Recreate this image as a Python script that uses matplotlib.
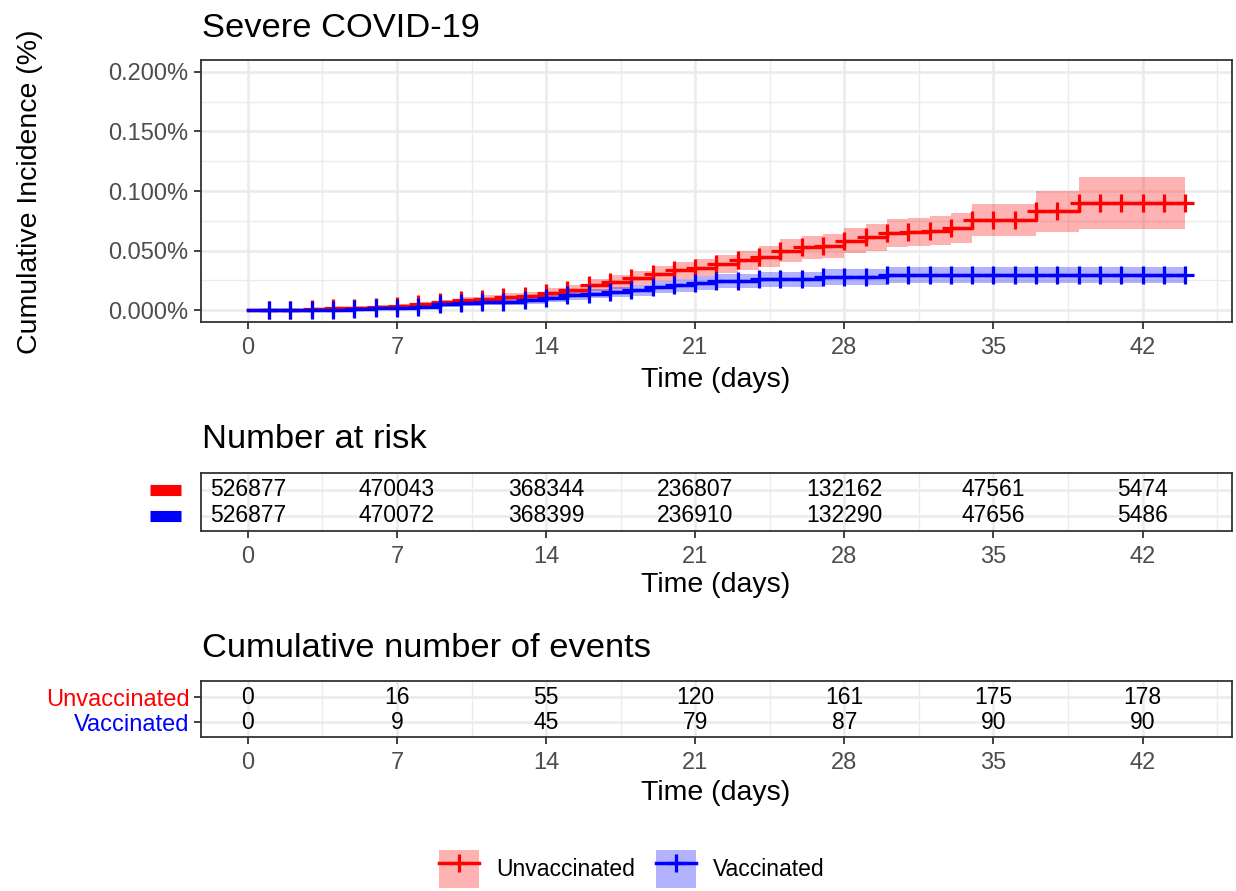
import numpy as np
import matplotlib
matplotlib.use('Agg')
import matplotlib.pyplot as plt
from matplotlib.patches import Patch
from matplotlib.lines import Line2D
from matplotlib.ticker import MultipleLocator
import matplotlib.transforms as mtransforms

plt.rcParams['font.family'] = ['Liberation Sans', 'DejaVu Sans']

# cumulative incidence (%) per day, step value from day d to d+1
days = np.arange(0, 45)
unvacc = [0, 0, 0.0003, 0.0008, 0.0014, 0.0019, 0.0028, 0.0036, 0.0047, 0.0064,
          0.0083, 0.0097, 0.0108, 0.0120, 0.0147, 0.0167, 0.0208, 0.0236, 0.0270, 0.0306,
          0.0333, 0.0355, 0.0389, 0.0417, 0.0450, 0.0500, 0.0528, 0.0542, 0.0583, 0.0611,
          0.0647, 0.0653, 0.0667, 0.0686, 0.0756, 0.0756, 0.0756, 0.0833, 0.0833, 0.0903,
          0.0903, 0.0903, 0.0903, 0.0903, 0.0903]
unvacc_lo = [0, 0, 0.0000, 0.0001, 0.0004, 0.0007, 0.0013, 0.0019, 0.0027, 0.0040,
             0.0055, 0.0066, 0.0075, 0.0085, 0.0107, 0.0123, 0.0158, 0.0181, 0.0210, 0.0241,
             0.0264, 0.0283, 0.0312, 0.0336, 0.0364, 0.0407, 0.0430, 0.0441, 0.0476, 0.0500,
             0.0530, 0.0535, 0.0545, 0.0560, 0.0620, 0.0620, 0.0620, 0.0653, 0.0653, 0.0680,
             0.0680, 0.0680, 0.0680, 0.0680, 0.0680]
unvacc_hi = [0, 0, 0.0008, 0.0016, 0.0024, 0.0031, 0.0043, 0.0053, 0.0067, 0.0088,
             0.0111, 0.0128, 0.0141, 0.0155, 0.0187, 0.0211, 0.0258, 0.0291, 0.0330, 0.0371,
             0.0402, 0.0427, 0.0466, 0.0498, 0.0536, 0.0593, 0.0626, 0.0643, 0.0690, 0.0722,
             0.0764, 0.0771, 0.0789, 0.0812, 0.0892, 0.0892, 0.0892, 0.1003, 0.1003, 0.1120,
             0.1120, 0.1120, 0.1120, 0.1120, 0.1120]
vacc = [0, 0, 0, 0, 0, 0.0006, 0.0014, 0.0019, 0.0028, 0.0047,
        0.0056, 0.0064, 0.0069, 0.0083, 0.0103, 0.0125, 0.0139, 0.0153, 0.0167, 0.0194,
        0.0208, 0.0228, 0.0242, 0.0242, 0.0258, 0.0258, 0.0258, 0.0278, 0.0278, 0.0278,
        0.0297, 0.0297, 0.0297, 0.0297, 0.0297, 0.0297, 0.0297, 0.0297, 0.0297, 0.0297,
        0.0297, 0.0297, 0.0297, 0.0297, 0.0297]
vacc_lo = [0, 0, 0, 0, 0, 0.0000, 0.0004, 0.0007, 0.0013, 0.0026,
           0.0033, 0.0039, 0.0043, 0.0054, 0.0070, 0.0088, 0.0099, 0.0110, 0.0122, 0.0144,
           0.0155, 0.0172, 0.0183, 0.0183, 0.0196, 0.0196, 0.0196, 0.0213, 0.0213, 0.0213,
           0.0231, 0.0231, 0.0231, 0.0231, 0.0231, 0.0231, 0.0231, 0.0231, 0.0231, 0.0231,
           0.0231, 0.0231, 0.0231, 0.0231, 0.0231]
vacc_hi = [0, 0, 0, 0, 0, 0.0013, 0.0024, 0.0031, 0.0043, 0.0068,
           0.0079, 0.0089, 0.0095, 0.0112, 0.0136, 0.0162, 0.0179, 0.0196, 0.0212, 0.0244,
           0.0261, 0.0284, 0.0301, 0.0301, 0.0320, 0.0320, 0.0320, 0.0343, 0.0343, 0.0343,
           0.0362, 0.0362, 0.0362, 0.0362, 0.0362, 0.0362, 0.0362, 0.0362, 0.0362, 0.0362,
           0.0362, 0.0362, 0.0362, 0.0362, 0.0362]

table_days = [0, 7, 14, 21, 28, 35, 42]
risk_unvacc = [526877, 470043, 368344, 236807, 132162, 47561, 5474]
risk_vacc = [526877, 470072, 368399, 236910, 132290, 47656, 5486]
events_unvacc = [0, 16, 55, 120, 161, 175, 178]
events_vacc = [0, 9, 45, 79, 87, 90, 90]

RED = '#FF0000'
BLUE = '#0000FF'
W, H = 1236, 891


def frac_box(x0, y0, x1, y1):
    return [x0 / W, 1 - y1 / H, (x1 - x0) / W, (y1 - y0) / H]


def style(a):
    a.set_facecolor('white')
    for s in a.spines.values():
        s.set_color('#333333')
        s.set_linewidth(1.3)
    a.tick_params(which='major', colors='#333333', labelcolor='#4D4D4D',
                  labelsize=17, length=5, width=1.3)
    a.tick_params(which='minor', length=0)
    a.grid(which='major', color='#EBEBEB', lw=1.8)
    a.grid(which='minor', color='#EBEBEB', lw=1.0)
    a.set_axisbelow(True)
    a.set_xlim(-2.2, 46.2)
    a.xaxis.set_major_locator(MultipleLocator(7))
    a.xaxis.set_minor_locator(MultipleLocator(3.5))
    a.tick_params(axis='x', pad=6)


fig = plt.figure(figsize=(W / 100, H / 100), dpi=100)

# main curve panel
ax = fig.add_axes(frac_box(201, 60, 1232, 322))
style(ax)
ax.set_ylim(-0.01, 0.21)
ax.yaxis.set_minor_locator(MultipleLocator(0.025))
ax.set_yticks([0, 0.05, 0.1, 0.15, 0.2])
ax.set_yticklabels(['%.3f%%' % v for v in [0, 0.05, 0.1, 0.15, 0.2]])
ax.tick_params(axis='y', pad=4)

for lo, hi, col in [(unvacc_lo, unvacc_hi, RED), (vacc_lo, vacc_hi, BLUE)]:
    ax.fill_between(days, lo, hi, step='post', color=col, alpha=0.3, lw=0)
for ci, col in [(unvacc, RED), (vacc, BLUE)]:
    ax.step(days, ci, where='post', color=col, lw=2.5)
    ax.plot(days[1:], ci[1:], '+', color=col, ms=13, mew=2.3, ls='none')

fig.text(202 / W, 1 - 37 / H, 'Severe COVID-19', fontsize=24.8, va='baseline', ha='left')
fig.text(30 / W, 1 - 192 / H, 'Cumulative Incidence (%)', fontsize=20.5,
         rotation=90, va='center', ha='center')
fig.text(716 / W, 1 - 380 / H, 'Time (days)', fontsize=20.5, va='center', ha='center')

# risk table
axr = fig.add_axes(frac_box(201, 473, 1232, 531))
style(axr)
axr.set_ylim(0.42, 2.65)
axr.set_yticks([1, 2])
axr.set_yticklabels(['', ''])
axr.tick_params(axis='y', length=0)
for d, a, b in zip(table_days, risk_unvacc, risk_vacc):
    axr.text(d, 2, str(a), ha='center', va='center', fontsize=16.5, color='black')
    axr.text(d, 1, str(b), ha='center', va='center', fontsize=16.5, color='black')
trans = mtransforms.blended_transform_factory(axr.transAxes, axr.transData)
for yv, col in [(2, RED), (1, BLUE)]:
    axr.plot([-0.0495, -0.0194], [yv, yv], color=col, lw=8, solid_capstyle='butt',
             transform=trans, clip_on=False)
fig.text(202 / W, 1 - 448 / H, 'Number at risk', fontsize=24.8, va='baseline', ha='left')
fig.text(716 / W, 1 - 585 / H, 'Time (days)', fontsize=20.5, va='center', ha='center')

# cumulative events table
axe = fig.add_axes(frac_box(201, 681, 1232, 737))
style(axe)
axe.set_ylim(0.42, 2.65)
axe.set_yticks([1, 2])
axe.set_yticklabels(['Vaccinated', 'Unvaccinated'])
axe.tick_params(axis='y', pad=3)
axe.get_yticklabels()[0].set_color(BLUE)
axe.get_yticklabels()[1].set_color(RED)
for d, a, b in zip(table_days, events_unvacc, events_vacc):
    axe.text(d, 2, str(a), ha='center', va='center', fontsize=16.5, color='black')
    axe.text(d, 1, str(b), ha='center', va='center', fontsize=16.5, color='black')
fig.text(202 / W, 1 - 657 / H, 'Cumulative number of events', fontsize=24.8,
         va='baseline', ha='left')
fig.text(716 / W, 1 - 793 / H, 'Time (days)', fontsize=20.5, va='center', ha='center')

# legend
handles = []
for col in [RED, BLUE]:
    handles.append((Patch(facecolor=col, alpha=0.3, lw=0),
                    Line2D([], [], color=col, lw=2.5, marker='+', ms=13, mew=2.3)))
fig.legend(handles, ['Unvaccinated', 'Vaccinated'], loc='center',
           bbox_to_anchor=(632 / W, 1 - 869 / H), ncol=2, frameon=False,
           fontsize=16.5, handlelength=1.75, handleheight=2.2,
           handletextpad=0.75, columnspacing=0.9, numpoints=1)

fig.savefig('out.png', dpi=100)
